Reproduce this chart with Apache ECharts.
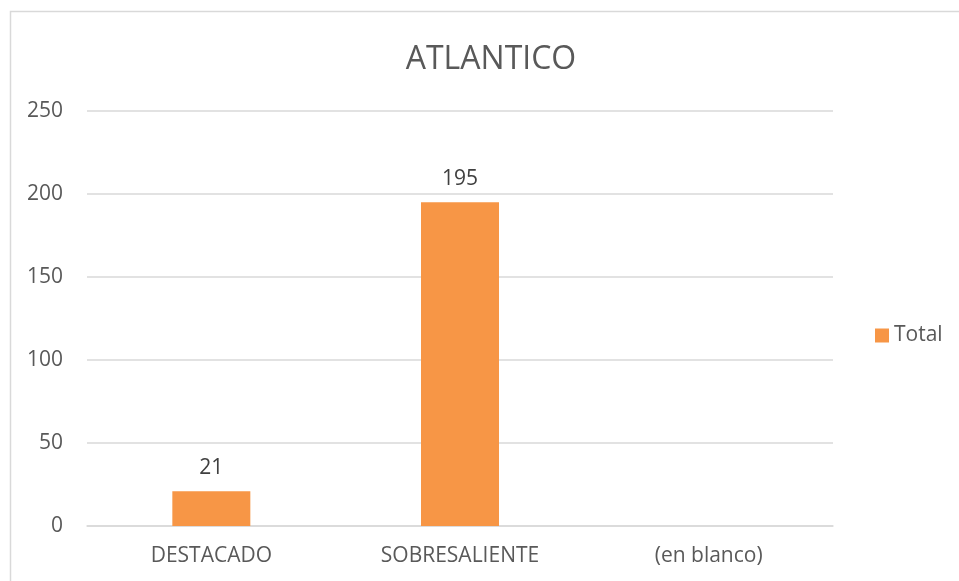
<!DOCTYPE html>
<html><head><meta charset="utf-8">
<script src="https://cdn.jsdelivr.net/npm/echarts@6/dist/echarts.min.js"></script>
<style>html,body{margin:0;padding:0;background:#fff}#c{width:959px;height:581px}</style>
</head><body><div id="c"></div>
<script>
const categories = ['DESTACADO', 'SOBRESALIENTE', '(en blanco)'];
const totals = [21, 195, null];
const yTicks = [0, 50, 100, 150, 200, 250];
const seriesName = 'Total';
const titleText = 'ATLANTICO';

const FONT = '"Open Sans", "Liberation Sans", sans-serif';
const chart = echarts.init(document.getElementById('c'));
chart.setOption({
  animation: false,
  backgroundColor: '#fff',
  graphic: [{
    type: 'rect', shape: {x: 10.5, y: 11.5, width: 1000, height: 1000},
    style: {fill: 'none', stroke: '#d9d9d9', lineWidth: 1.5}, silent: true, z: -1
  }],
  title: {
    text: titleText, left: 486, top: 39, textAlign: 'center',
    textStyle: {fontFamily: FONT, fontSize: 32, fontWeight: 'normal', color: '#595959'}
  },
  legend: {
    data: [seriesName], left: 870, top: 320, orient: 'vertical',
    icon: 'rect', itemWidth: 14, itemHeight: 14, itemGap: 5,
    textStyle: {fontFamily: FONT, fontSize: 21, color: '#595959'}
  },
  grid: {left: 87, right: 126, top: 111, bottom: 55, containLabel: false},
  xAxis: {
    type: 'category', data: categories,
    axisLine: {lineStyle: {color: '#d9d9d9', width: 1.5}},
    axisTick: {show: false},
    axisLabel: {fontFamily: FONT, fontSize: 21, color: '#595959', margin: 20}
  },
  yAxis: {
    type: 'value', min: yTicks[0], max: yTicks[yTicks.length-1], interval: 50,
    axisLine: {show: false}, axisTick: {show: false},
    splitLine: {lineStyle: {color: '#d9d9d9', width: 1.5}},
    axisLabel: {fontFamily: FONT, fontSize: 21, color: '#595959', margin: 24}
  },
  series: [{
    name: seriesName, type: 'bar', data: totals, barWidth: 78,
    itemStyle: {color: '#f79646'},
    label: {show: true, position: 'top', distance: 13, fontFamily: FONT, fontSize: 21, color: '#404040'}
  }]
});
</script></body></html>
